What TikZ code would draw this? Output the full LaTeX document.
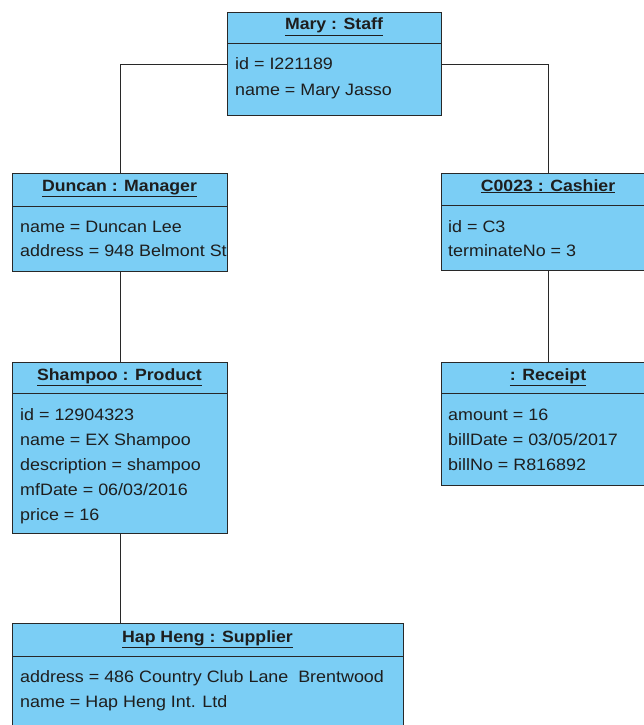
\documentclass[tikz,border=0pt]{standalone}
\usepackage{fontspec}
\setmainfont{Liberation Sans}[FakeStretch=1.085]
\definecolor{objfill}{RGB}{123,206,245}
\definecolor{objline}{RGB}{40,40,40}
\definecolor{txt}{RGB}{30,30,30}
\begin{document}
\begin{tikzpicture}[x=1pt,y=-1pt,
  objbox/.style={draw=objline, fill=objfill, line width=1pt, rectangle, inner sep=0pt, anchor=north west},
  hdr/.style={font=\fontsize{16.3}{20}\selectfont\bfseries, text=txt, anchor=base, inner sep=0pt},
  attr/.style={font=\fontsize{16.5}{20}\selectfont, text=txt, anchor=base west, inner sep=0pt},
  divider/.style={draw=objline, line width=1pt},
  link/.style={draw=objline, line width=0.9pt}]
\useasboundingbox (0,0) rectangle (644,725);
\clip (0,0) rectangle (644,725);
% boxes
\node[objbox, minimum width=214pt, minimum height=103pt] (mary) at (227,12) {};
\node[objbox, minimum width=215pt, minimum height=98pt] (duncan) at (12,173) {};
\node[objbox, minimum width=214pt, minimum height=97pt] (cashier) at (441,173) {};
\node[objbox, minimum width=215pt, minimum height=171pt] (product) at (12,362) {};
\node[objbox, minimum width=214pt, minimum height=123pt] (receipt) at (441,362) {};
\node[objbox, minimum width=391pt, minimum height=120pt] (supplier) at (12,623) {};
% dividers
\draw[divider] (mary.west |- 0,44) -- (mary.east |- 0,44);
\draw[divider] (duncan.west |- 0,206) -- (duncan.east |- 0,206);
\draw[divider] (cashier.west |- 0,205) -- (cashier.east |- 0,205);
\draw[divider] (product.west |- 0,393) -- (product.east |- 0,393);
\draw[divider] (receipt.west |- 0,393) -- (receipt.east |- 0,393);
\draw[divider] (supplier.west |- 0,656) -- (supplier.east |- 0,656);
% connectors
\draw[link] (mary.west) -| (duncan.north);
\draw[link] (mary.east) -| (cashier.north);
\draw[link] (duncan.south) -- (product.north);
\draw[link] (cashier.south) -- (receipt.north);
\draw[link] (product.south) -- (product.south |- supplier.north);
% headers
\node[hdr] (maryh) at (334,30) {\underline{Mary : Staff}};
\node[hdr] (duncanh) at (119.5,191) {\underline{Duncan : Manager}};
\node[hdr] (cashierh) at (548,191) {\underline{C0023 : Cashier}};
\node[hdr] (producth) at (119.5,380) {\underline{Shampoo : Product}};
\node[hdr] (receipth) at (548,380) {\underline{: Receipt}};
\node[hdr] (supplierh) at (207.5,642) {\underline{Hap Heng : Supplier}};
% attributes
\node[attr] (mary1) at (235,70) {id = I221189};
\node[attr] (mary2) at (235,95) {name = Mary Jasso};
\begin{scope}
\clip (12,173) rectangle (226.5,271);
\node[attr] (duncan1) at (20,232) {name = Duncan Lee};
\node[attr] (duncan2) at (20,256) {address = 948 Belmont St};
\end{scope}
\node[attr] (cashier1) at (448,232) {id = C3};
\node[attr] (cashier2) at (448,256) {terminateNo = 3};
\node[attr] (product1) at (20,420) {id = 12904323};
\node[attr] (product2) at (20,445) {name = EX Shampoo};
\node[attr] (product3) at (20,470) {description = shampoo};
\node[attr] (product4) at (20,495) {mfDate = 06/03/2016};
\node[attr] (product5) at (20,520) {price = 16};
\node[attr] (receipt1) at (448,420) {amount = 16};
\node[attr] (receipt2) at (448,445) {billDate = 03/05/2017};
\node[attr] (receipt3) at (448,470) {billNo = R816892};
\node[attr] (supplier1) at (20,682) {address = 486 Country Club Lane\ \ Brentwood};
\node[attr] (supplier2) at (20,707) {name = Hap Heng Int. Ltd};
\end{tikzpicture}
\end{document}
